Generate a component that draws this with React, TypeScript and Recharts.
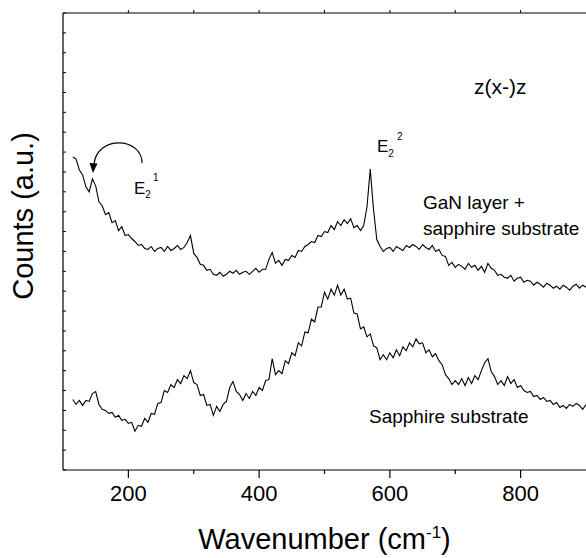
import React from 'react';
import { LineChart, Line, XAxis, YAxis, Customized } from 'recharts';

// Raman spectra, sampled every 5 cm^-1 from 115 to 900
const wavenumber: number[] = Array.from({ length: 158 }, (_, i) => 115 + 5 * i);

const ganLayer: number[] = [
  315, 313, 302, 297, 285, 280, 293, 286, 270, 266,
  257, 259, 249, 251, 241, 245, 236, 237, 233, 230,
  226, 227, 223, 222, 225, 220, 223, 224, 220, 225,
  221, 223, 226, 222, 224, 229, 236, 218, 214, 207,
  206, 201, 202, 197, 196, 199, 195, 197, 200, 198,
  201, 197, 199, 200, 197, 200, 203, 199, 202, 202,
  212, 219, 208, 211, 206, 212, 211, 216, 214, 221,
  220, 225, 227, 230, 229, 236, 235, 240, 239, 246,
  242, 250, 246, 252, 248, 253, 244, 246, 241, 246,
  265, 303, 262, 232, 225, 220, 223, 224, 220, 225,
  223, 221, 226, 224, 227, 225, 222, 227, 224, 222,
  226, 220, 222, 216, 215, 206, 209, 204, 207, 205,
  202, 208, 204, 206, 201, 205, 199, 208, 203, 201,
  196, 197, 194, 193, 196, 190, 193, 194, 189, 191,
  190, 186, 189, 187, 184, 188, 186, 183, 185, 182,
  186, 184, 181, 185, 187, 183, 186, 184,
];

const sapphire: number[] = [
  71, 66, 70, 65, 70, 69, 77, 79, 66, 61,
  60, 57, 58, 53, 55, 50, 51, 47, 48, 39,
  45, 44, 52, 48, 57, 56, 67, 68, 80, 78,
  86, 83, 91, 87, 95, 92, 100, 88, 86, 75,
  76, 65, 66, 55, 64, 59, 66, 69, 83, 89,
  79, 76, 70, 77, 72, 79, 75, 83, 80, 90,
  91, 112, 96, 100, 97, 110, 107, 118, 115, 128,
  125, 139, 138, 152, 149, 164, 164, 179, 172, 182,
  176, 186, 176, 182, 172, 173, 158, 157, 142, 144,
  134, 137, 125, 123, 111, 116, 111, 118, 113, 121,
  115, 124, 120, 128, 124, 132, 127, 128, 118, 121,
  114, 117, 110, 106, 96, 92, 86, 90, 86, 92,
  85, 93, 87, 95, 91, 100, 108, 112, 99, 94,
  86, 90, 85, 94, 87, 91, 83, 85, 80, 78,
  79, 74, 75, 71, 73, 69, 70, 66, 68, 63,
  65, 62, 66, 64, 67, 65, 61, 66,
];

const majorTicks: number[] = [200, 400, 600, 800];
const xTicks: number[] = [200, 300, 400, 500, 600, 700, 800];
const yTicks: number[] = Array.from({ length: 24 }, (_, i) => i * 20);

const data = wavenumber.map((x, i) => ({ x, gan: ganLayer[i], sap: sapphire[i] }));

const FONT = '"Liberation Sans", Arial, Helvetica, sans-serif';
const AXIS = { stroke: '#000', strokeWidth: 1.2 };

const BottomTick = (props: any) => {
  const { x, y, payload } = props;
  const v = payload.value;
  const major = majorTicks.includes(v);
  return (
    <g>
      <line x1={x} x2={x} y1={y} y2={y + (major ? 8 : 4)} stroke="#000" strokeWidth={1.2} />
      {major && (
        <text x={x} y={y + 15} dy="0.71em" textAnchor="middle" fontSize={22} fontFamily={FONT} fill="#000">
          {v}
        </text>
      )}
    </g>
  );
};

const TopTick = (props: any) => {
  const { x, y } = props;
  return <line x1={x} x2={x} y1={y} y2={y - 3} stroke="#000" strokeWidth={1} />;
};

const LeftTick = (props: any) => {
  const { x, y } = props;
  return <line x1={x} x2={x + 3} y1={y} y2={y} stroke="#000" strokeWidth={1} />;
};

const Annotations = () => (
  <g fontFamily={FONT} fill="#000">
    <text x={33} y={216} fontSize={29} textAnchor="middle" transform="rotate(-90 33 216)">
      Counts (a.u.)
    </text>
    <text x={324.5} y={549} fontSize={29} textAnchor="middle">
      Wavenumber (cm
      <tspan fontSize={17} dy={-11}>-1</tspan>
      <tspan dy={11}>)</tspan>
    </text>
    <text x={474} y={94} fontSize={21}>z(x-)z</text>
    <text x={423} y={209} fontSize={19}>GaN layer +</text>
    <text x={423} y={235} fontSize={19}>sapphire substrate</text>
    <text x={369} y={423} fontSize={19}>Sapphire substrate</text>
    <text x={377} y={152} fontSize={17}>
      E<tspan fontSize={10} dy={5}>2</tspan>
      <tspan fontSize={10} dx={3} dy={-17}>2</tspan>
    </text>
    <text x={134} y={194} fontSize={17}>
      E<tspan fontSize={10} dy={4}>2</tspan>
      <tspan fontSize={10} dx={2} dy={-17}>1</tspan>
    </text>
    <path d="M 142 163 C 142 137, 97 135, 94 164" fill="none" stroke="#000" strokeWidth={1.2} />
    <path d="M 89.5 163 L 97.5 163.5 L 93 173 Z" fill="#000" />
  </g>
);

export default function App() {
  return (
    <div style={{ width: 586, height: 558 }}>
      <style>{`body{margin:0}`}</style>
      <LineChart width={586} height={558} data={data} margin={{ top: 12, right: 0, bottom: 58, left: 62 }}>
        <XAxis
          dataKey="x"
          type="number"
          domain={[100, 900]}
          ticks={xTicks}
          interval={0}
          allowDataOverflow
          height={30}
          tickSize={0}
          tickMargin={0}
          tickLine={false}
          axisLine={AXIS}
          tick={<BottomTick />}
        />
        <XAxis
          xAxisId="top"
          orientation="top"
          dataKey="x"
          type="number"
          domain={[100, 900]}
          ticks={xTicks}
          interval={0}
          allowDataOverflow
          height={1}
          tickSize={0}
          tickMargin={0}
          tickLine={false}
          axisLine={AXIS}
          tick={<TopTick />}
        />
        <YAxis
          type="number"
          domain={[0, 460]}
          ticks={yTicks}
          interval={0}
          allowDataOverflow
          width={1}
          tickSize={0}
          tickMargin={0}
          tickLine={false}
          axisLine={AXIS}
          tick={<LeftTick />}
        />
        <Line type="linear" dataKey="gan" stroke="#000" strokeWidth={1.1} dot={false} isAnimationActive={false} />
        <Line type="linear" dataKey="sap" stroke="#000" strokeWidth={1.1} dot={false} isAnimationActive={false} />
        <Customized component={<Annotations />} />
      </LineChart>
    </div>
  );
}
